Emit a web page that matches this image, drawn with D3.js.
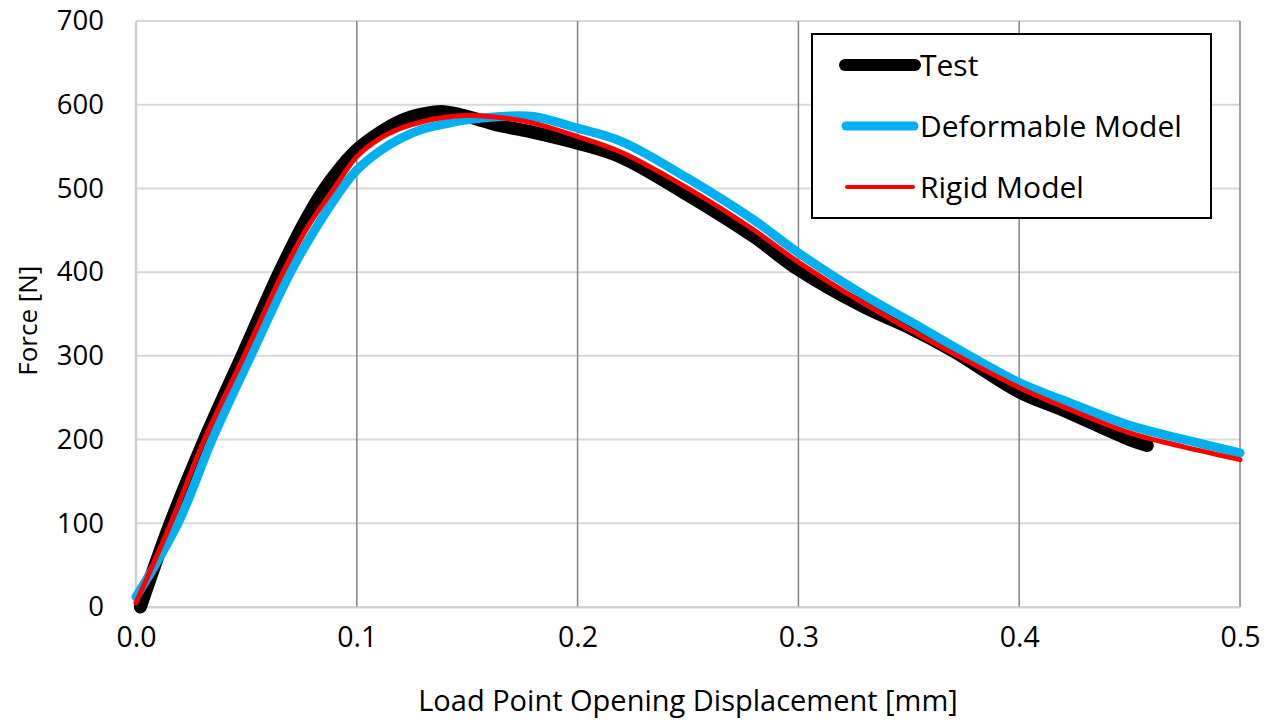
<!DOCTYPE html>
<html>
<head>
<meta charset="utf-8">
<script src="https://cdn.jsdelivr.net/npm/d3@7"></script>
<style>
  html, body { margin: 0; padding: 0; background: #fff; }
  svg { display: block; font-family: "Open Sans", sans-serif; }
</style>
</head>
<body>
<div id="chart"></div>
<script>
// displacement [mm] / force [N]
const testX = [0.002, 0.0155, 0.031, 0.048, 0.065, 0.076, 0.085, 0.093, 0.100, 0.110, 0.120, 0.130, 0.138, 0.147, 0.165, 0.180, 0.200, 0.220, 0.250, 0.280, 0.300, 0.330, 0.350, 0.370, 0.400, 0.420, 0.450, 0.458];
const testF = [0, 100, 200, 300, 400, 458, 498, 526, 546, 566, 581, 589, 592, 588, 575, 567, 554, 537, 492, 442, 403, 358, 334, 306, 257, 235, 200, 193];

const deformX = [0.000, 0.019, 0.0345, 0.052, 0.070, 0.082, 0.0947, 0.100, 0.110, 0.120, 0.130, 0.140, 0.150, 0.165, 0.180, 0.200, 0.220, 0.250, 0.280, 0.300, 0.330, 0.350, 0.400, 0.420, 0.450, 0.475, 0.500];
const deformF = [12, 100, 200, 300, 400, 455, 505, 522, 544, 560, 571, 577, 582, 586, 586, 572, 556, 512, 462, 423, 372, 342, 268, 247, 217, 200, 184];

const rigidX = [0.000, 0.0158, 0.031, 0.049, 0.0666, 0.078, 0.0897, 0.100, 0.110, 0.120, 0.130, 0.140, 0.150, 0.160, 0.170, 0.180, 0.200, 0.220, 0.250, 0.280, 0.300, 0.330, 0.350, 0.370, 0.400, 0.420, 0.450, 0.475, 0.500];
const rigidF = [5, 100, 200, 300, 400, 455, 500, 538, 559, 572, 580, 585, 587, 586, 583, 578, 562, 543, 500, 450, 412, 362, 332, 303, 262, 239, 208, 191, 176];

const xTicks = [0, 0.1, 0.2, 0.3, 0.4, 0.5];
const yTicks = [0, 100, 200, 300, 400, 500, 600, 700];

const seriesNames = ["Test", "Deformable Model", "Rigid Model"];
const seriesColors = ["#000000", "#00b0f0", "#ff0000"];
const seriesWidths = [13, 9, 5];

const width = 1274;
const height = 723;
const margin = { top: 21, right: 34, bottom: 116, left: 136 };

const x = d3.scaleLinear().domain([0, 0.5]).range([margin.left, width - margin.right]);
const y = d3.scaleLinear().domain([0, 700]).range([height - margin.bottom, margin.top]);

const svg = d3.select("#chart")
  .append("svg")
  .attr("width", width)
  .attr("height", height);

// horizontal grid
svg.append("g")
  .selectAll("line")
  .data(yTicks)
  .join("line")
  .attr("x1", margin.left)
  .attr("x2", width - margin.right)
  .attr("y1", (d) => y(d))
  .attr("y2", (d) => y(d))
  .attr("stroke", "#d9d9d9")
  .attr("stroke-width", 2);

// vertical grid
svg.append("g")
  .selectAll("line")
  .data(xTicks.slice(1))
  .join("line")
  .attr("x1", (d) => x(d))
  .attr("x2", (d) => x(d))
  .attr("y1", margin.top)
  .attr("y2", height - margin.bottom)
  .attr("stroke", "#8a8a8a")
  .attr("stroke-width", 1.6);

// left axis line
svg.append("line")
  .attr("x1", x(0))
  .attr("x2", x(0))
  .attr("y1", margin.top)
  .attr("y2", height - margin.bottom)
  .attr("stroke", "#d0d0d0")
  .attr("stroke-width", 2.5);

// axes with labels only
const xAxis = svg.append("g")
  .attr("transform", `translate(0,${height - margin.bottom})`)
  .call(d3.axisBottom(x).tickValues(xTicks).tickSize(0).tickPadding(20).tickFormat(d3.format(".1f")));
xAxis.select(".domain").attr("stroke", "#d0d0d0").attr("stroke-width", 2);
xAxis.selectAll("text").attr("font-size", 28.5).attr("fill", "#000").attr("font-family", "Open Sans");

const yAxis = svg.append("g")
  .attr("transform", `translate(${margin.left},0)`)
  .call(d3.axisLeft(y).tickValues(yTicks).tickSize(0).tickPadding(32));
yAxis.select(".domain").remove();
yAxis.selectAll("text").attr("font-size", 27.5).attr("fill", "#000").attr("font-family", "Open Sans");

// axis titles
svg.append("text")
  .attr("x", (x(0) + x(0.5)) / 2)
  .attr("y", 711)
  .attr("text-anchor", "middle")
  .attr("font-size", 29)
  .text("Load Point Opening Displacement [mm]");

svg.append("text")
  .attr("transform", `translate(37, ${y(342)}) rotate(-90)`)
  .attr("text-anchor", "middle")
  .attr("font-size", 26)
  .text("Force [N]");

// series
const line = d3.line()
  .x((d) => x(d[0]))
  .y((d) => y(d[1]))
  .curve(d3.curveCatmullRom.alpha(0.5));

const series = [
  d3.zip(testX, testF),
  d3.zip(deformX, deformF),
  d3.zip(rigidX, rigidF)
];

series.forEach((pts, i) => {
  svg.append("path")
    .datum(pts)
    .attr("fill", "none")
    .attr("stroke", seriesColors[i])
    .attr("stroke-width", seriesWidths[i])
    .attr("stroke-linecap", "round")
    .attr("stroke-linejoin", "round")
    .attr("d", line);
});

// legend
const legend = svg.append("g");
legend.append("rect")
  .attr("x", 812)
  .attr("y", 34)
  .attr("width", 399)
  .attr("height", 184)
  .attr("fill", "#fff")
  .attr("stroke", "#000")
  .attr("stroke-width", 2);

const legendRows = [65, 126, 187];
seriesNames.forEach((name, i) => {
  legend.append("line")
    .attr("x1", 845 + i)
    .attr("x2", 915 - i)
    .attr("y1", legendRows[i])
    .attr("y2", legendRows[i])
    .attr("stroke", seriesColors[i])
    .attr("stroke-width", [12, 9, 4][i])
    .attr("stroke-linecap", "round");
  legend.append("text")
    .attr("x", 920)
    .attr("y", legendRows[i])
    .attr("dy", "0.36em")
    .attr("font-size", 30)
    .text(name);
});
</script>
</body>
</html>
